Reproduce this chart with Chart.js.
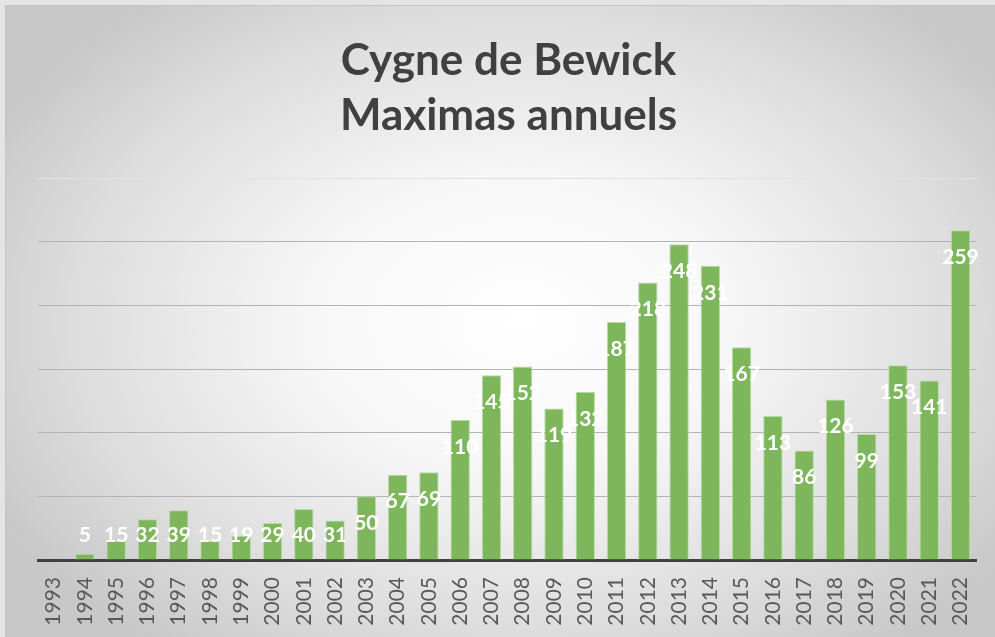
<!DOCTYPE html>
<html lang="fr">
<head>
<meta charset="utf-8">
<title>Cygne de Bewick - Maximas annuels</title>
<script src="https://cdn.jsdelivr.net/npm/chart.js@4"></script>
<style>
    html, body { margin: 0; padding: 0; background: #e4e4e4; }
    .frame {
        position: absolute; left: 5px; top: 5px; width: 990px; height: 632px;
        background: radial-gradient(ellipse 60% 65% at 52% 50%, #ffffff 0%, #f7f7f7 35%, #dddddd 75%, #c8c8c8 100%);
        border-left: 1px solid #c4c4c4; border-top: 1px solid #c4c4c4;
        box-sizing: border-box;
    }
    #chart { position: absolute; left: -6px; top: -6px; }
</style>
</head>
<body>
<div class="frame">
    <canvas id="chart" width="995" height="637"></canvas>
</div>
<script>
// --- DATA ---
const years = ['1993','1994','1995','1996','1997','1998','1999','2000','2001','2002',
               '2003','2004','2005','2006','2007','2008','2009','2010','2011','2012',
               '2013','2014','2015','2016','2017','2018','2019','2020','2021','2022'];
const maxima = [null, 5, 15, 32, 39, 15, 19, 29, 40, 31,
                50, 67, 69, 110, 145, 152, 119, 132, 187, 218,
                248, 231, 167, 113, 86, 126, 99, 153, 141, 259];
const chartTitle = ['Cygne de Bewick', 'Maximas annuels'];

// --- VALUE LABELS (inside end, kept above the axis) ---
const valueLabels = {
    id: 'valueLabels',
    afterDatasetsDraw(chart) {
        const ctx = chart.ctx;
        const meta = chart.getDatasetMeta(0);
        ctx.save();
        ctx.font = 'bold 21px Lato, "Open Sans", sans-serif';
        ctx.fillStyle = '#ffffff';
        ctx.textAlign = 'center';
        ctx.textBaseline = 'middle';
        meta.data.forEach((bar, i) => {
            const v = maxima[i];
            if (v === null) return;
            const y = Math.min(bar.y + 27, bar.base - 24);
            ctx.fillText(String(v), bar.x, y);
        });
        ctx.restore();
    }
};

new Chart(document.getElementById('chart'), {
    type: 'bar',
    data: {
        labels: years,
        datasets: [{
            data: maxima,
            backgroundColor: '#7db65b',
            borderColor: '#b9dca4',
            borderWidth: 1,
            barPercentage: 0.62,
            categoryPercentage: 1
        }]
    },
    options: {
        responsive: false,
        animation: false,
        layout: { padding: { left: 38, right: 16, top: 33, bottom: 0 } },
        plugins: {
            legend: { display: false },
            tooltip: { enabled: false },
            title: {
                display: true,
                text: chartTitle,
                color: '#404040',
                font: { family: 'Lato, "Open Sans", sans-serif', size: 44, weight: 'bold', lineHeight: 1.25 },
                padding: { top: 0, bottom: 35 }
            }
        },
        scales: {
            x: {
                grid: { display: false },
                border: { color: '#404040', width: 3 },
                ticks: {
                    color: '#595959',
                    font: { family: 'Lato, "Open Sans", sans-serif', size: 21 },
                    autoSkip: false,
                    minRotation: 90,
                    maxRotation: 90,
                    padding: 9
                },
                afterFit: s => { s.height = 77; }
            },
            y: {
                min: 0,
                max: 300,
                ticks: { display: false, stepSize: 50 },
                border: { display: false },
                grid: {
                    color: c => c.tick.value === 300 ? '#e2e2e2' : '#b4b4b4',
                    lineWidth: 1,
                    drawTicks: false
                }
            }
        }
    },
    plugins: [valueLabels]
});
</script>
</body>
</html>
